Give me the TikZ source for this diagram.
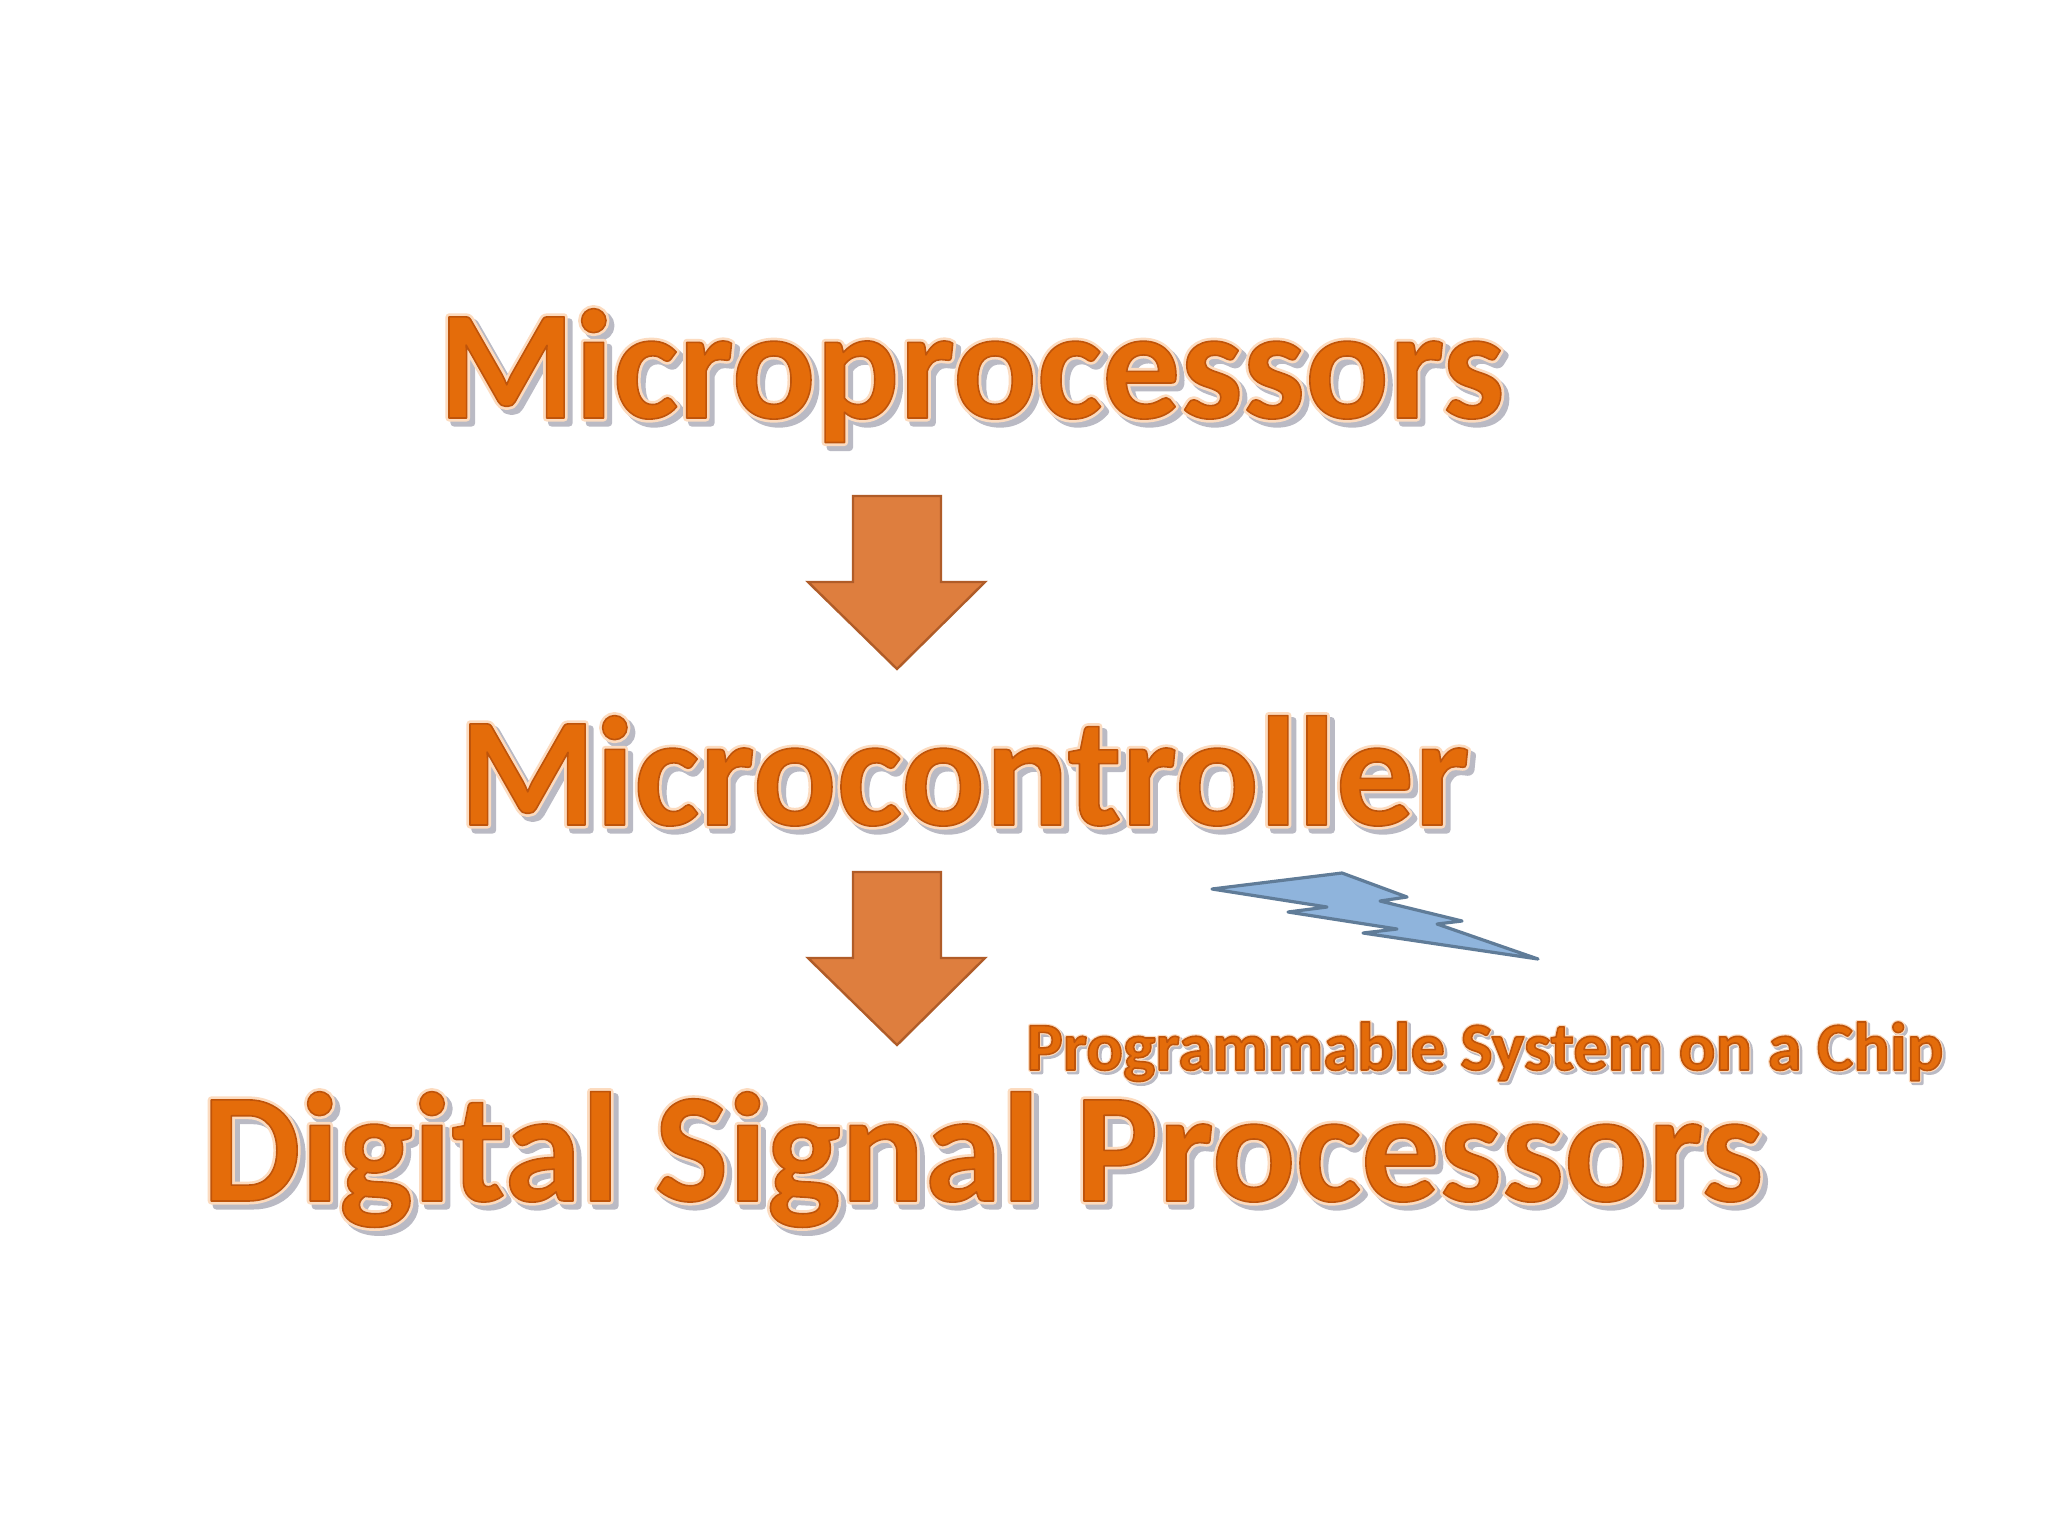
\documentclass[tikz,border=0pt]{standalone}
\usepackage{fontspec}
\setmainfont{Carlito}
\definecolor{txtorange}{RGB}{228,108,10}
\definecolor{txtpeach}{RGB}{252,220,192}
\definecolor{shadowgray}{RGB}{186,186,196}
\definecolor{arrowfill}{RGB}{222,126,62}
\definecolor{arrowline}{RGB}{176,92,40}
\definecolor{boltfill}{RGB}{143,180,220}
\definecolor{boltline}{RGB}{96,124,152}
% #1 text, #2 ring width (bp), #3 shadow offset
\newcommand{\glowtext}[3]{%
  \makebox[0pt][l]{\hspace{#3}\raisebox{-#3}{\textcolor{shadowgray}{\special{pdf:literal direct 0.73 0.73 0.77 RG #2 w 1 j 2 Tr}#1}}}%
  \makebox[0pt][l]{\textcolor{txtpeach}{\special{pdf:literal direct 0.99 0.86 0.75 RG #2 w 1 j 2 Tr}#1}}%
  \textcolor{txtorange}{\special{pdf:literal direct 0.75 0.33 0.04 RG 0.8 w 1 j 2 Tr}#1}}
\tikzset{
  bigtitle/.style={anchor=base west, inner sep=0pt, font=\fontsize{78}{90}\selectfont\bfseries},
  smalltitle/.style={anchor=base west, inner sep=0pt, font=\fontsize{34.2}{40}\selectfont\bfseries},
  blockarrow/.style={fill=arrowfill, draw=arrowline, line width=1.2pt, line join=miter},
  bolt/.style={fill=boltfill, draw=boltline, line width=1.6pt, line join=round}
}
\begin{document}
\begin{tikzpicture}[x=0.5pt,y=-0.5pt]
\useasboundingbox[fill=white] (0,0) rectangle (2048,1536);
% titles
\node[bigtitle] (mp) at (438,418) {\glowtext{Microprocessors}{3.5}{2.5pt}};
\node[bigtitle] (mc) at (459,825) {\glowtext{Microcontroller}{3.5}{2.5pt}};
\node[bigtitle] (dsp) at (202,1201) {\glowtext{Digital Signal Processors}{3.5}{2.5pt}};
\node[smalltitle] (psoc) at (1026,1070) {\glowtext{Programmable System on a Chip}{2}{1.2pt}};
% block arrows
\draw[blockarrow] (853,496) -- (941,496) -- (941,582) -- (985,582) -- (897,669)
  -- (808,582) -- (853,582) -- cycle;
\draw[blockarrow] (853,872) -- (941,872) -- (941,958) -- (985,958) -- (897,1045)
  -- (808,958) -- (853,958) -- cycle;
% lightning bolt
\draw[bolt] (1212,889) -- (1342,873) -- (1407,897) -- (1380,901) -- (1462,921)
  -- (1437,924) -- (1538,959) -- (1363,933) -- (1397,929) -- (1288,912)
  -- (1327,907) -- cycle;
\end{tikzpicture}
\end{document}
